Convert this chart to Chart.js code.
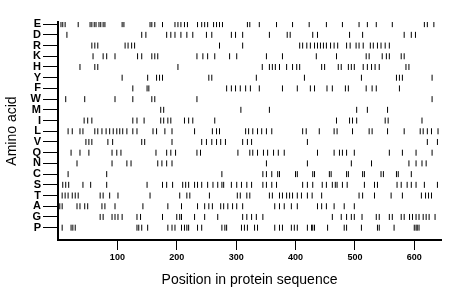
<!DOCTYPE html>
<html>
<head>
<meta charset="utf-8">
<script src="https://cdn.jsdelivr.net/npm/chart.js@4"></script>
<style>
  body { margin: 0; background: #fff; }
  #chart { display: block; }
</style>
</head>
<body>
<canvas id="chart" width="460" height="299"></canvas>
<script>
// amino acid order on the y axis, top to bottom
const aminoAcids = ["E", "D", "R", "K", "H", "Y", "F", "W", "M", "I", "L", "V", "Q", "N", "C", "S", "T", "A", "G", "P"];
const xTicks = [100, 200, 300, 400, 500, 600];
const seqLength = 645;

// positions of each residue in the sequence
const E = [5, 8, 12, 34, 54, 57, 61, 64, 69, 72, 76, 79, 108, 111, 155, 158, 163, 176, 197, 202, 207, 213, 218, 235, 242, 247, 252, 262, 267, 272, 277, 319, 323, 339, 368, 395, 423, 452, 479, 507, 521, 536, 563, 617, 622, 633];
const D = [15, 141, 148, 183, 190, 197, 207, 217, 227, 250, 259, 292, 299, 311, 356, 386, 391, 429, 437, 491, 513, 583, 595, 602];
const R = [57, 62, 67, 113, 118, 124, 129, 272, 311, 407, 412, 419, 425, 432, 437, 442, 447, 452, 459, 465, 471, 486, 492, 502, 507, 514, 526, 531, 538, 544, 551, 558];
const K = [59, 76, 82, 96, 134, 141, 158, 163, 168, 234, 244, 252, 264, 289, 301, 351, 378, 435, 469, 519, 524, 546, 553, 558, 578, 583];
const H = [37, 62, 67, 202, 344, 356, 361, 366, 373, 385, 395, 402, 407, 444, 449, 472, 477, 489, 494, 499, 514, 521, 528, 534, 541, 586, 591];
const Y = [108, 151, 166, 171, 176, 254, 259, 334, 415, 511, 570, 575, 580, 630];
const F = [126, 150, 153, 284, 292, 299, 307, 316, 324, 339, 378, 403, 425, 432, 453, 462, 484, 489, 519, 529, 536, 575];
const W = [13, 45, 96, 126, 158, 163, 234, 630];
const M = [173, 178, 308, 356, 503, 521, 555];
const I = [44, 50, 57, 126, 133, 145, 173, 178, 185, 190, 213, 220, 227, 264, 469, 491, 496, 503, 551, 556, 613];
const L = [17, 24, 37, 42, 62, 67, 74, 81, 87, 93, 99, 104, 109, 116, 126, 133, 160, 166, 180, 192, 230, 260, 267, 272, 316, 321, 328, 336, 343, 351, 360, 412, 418, 440, 465, 470, 496, 524, 529, 555, 583, 610, 615, 622, 629, 640];
const V = [47, 52, 57, 84, 92, 141, 146, 192, 242, 250, 259, 267, 274, 282, 311, 319, 326, 420, 622, 639];
const Q = [22, 37, 52, 91, 99, 106, 165, 183, 190, 198, 234, 240, 303, 323, 328, 336, 346, 353, 363, 371, 381, 437, 465, 474, 479, 486, 499, 558, 580, 603, 630];
const N = [32, 91, 116, 123, 168, 175, 183, 192, 351, 420, 494, 528, 591, 603, 613, 620];
const C = [17, 82, 276, 345, 351, 360, 370, 373, 400, 403, 429, 432, 457, 460, 486, 489, 513, 516, 544, 548, 570, 573, 595];
const S = [8, 13, 18, 42, 55, 82, 150, 176, 183, 193, 210, 215, 220, 230, 235, 242, 252, 261, 269, 276, 279, 292, 301, 309, 318, 326, 345, 351, 360, 368, 412, 420, 429, 445, 452, 462, 467, 470, 479, 487, 516, 533, 538, 571, 578, 588, 595, 603, 617, 639];
const T = [7, 12, 17, 24, 29, 34, 71, 76, 87, 101, 155, 205, 217, 222, 255, 302, 307, 318, 323, 356, 361, 373, 378, 385, 390, 395, 403, 410, 420, 428, 444, 507, 513, 533, 561, 580, 612, 619, 624, 629];
const A = [3, 7, 32, 37, 45, 50, 74, 79, 96, 143, 185, 208, 235, 247, 254, 260, 274, 279, 286, 294, 301, 311, 365, 373, 381, 393, 403, 437, 444, 452, 465, 482, 499];
const G = [71, 76, 91, 96, 101, 108, 133, 139, 176, 200, 205, 208, 230, 247, 269, 311, 318, 326, 334, 345, 462, 477, 486, 494, 499, 512, 536, 541, 558, 563, 578, 583, 592, 597, 603, 608, 615, 620, 625, 635];
const P = [7, 22, 25, 29, 133, 136, 141, 151, 185, 192, 197, 208, 213, 217, 220, 235, 242, 276, 281, 284, 309, 314, 319, 331, 336, 365, 373, 378, 393, 398, 403, 420, 427, 429, 432, 454, 482, 486, 511, 538, 541, 566, 600, 603, 605, 608];

const positions = [E, D, R, K, H, Y, F, W, M, I, L, V, Q, N, C, S, T, A, G, P];

// one point per residue, y = row (E on top)
const points = [];
positions.forEach((list, i) => {
    list.forEach(p => points.push({ x: p, y: aminoAcids.length - 1 - i }));
});

const ctx = document.getElementById("chart").getContext("2d");
new Chart(ctx, {
    type: "scatter",
    data: {
        datasets: [{
            data: points,
            pointStyle: "line",
            rotation: 90,
            radius: 3,
            borderColor: "#000",
            borderWidth: 1,
        }],
    },
    options: {
        responsive: false,
        animation: false,
        layout: { padding: { top: 22, right: 19, left: 0, bottom: 0 } },
        plugins: { legend: { display: false }, tooltip: { enabled: false } },
        scales: {
            x: {
                type: "linear",
                min: 0,
                max: seqLength,
                afterBuildTicks: scale => { scale.ticks = xTicks.map(v => ({ value: v })); },
                afterFit: scale => { scale.height = 59; },
                border: { display: true, color: "#000", width: 2 },
                grid: { drawOnChartArea: false, drawTicks: true, tickLength: 10, color: "#000", lineWidth: 1 },
                ticks: {
                    color: "#000",
                    padding: 2,
                    maxRotation: 0,
                    font: { family: "Liberation Sans", size: 9, weight: "bold" },
                },
                title: {
                    display: true,
                    text: "Position in protein sequence",
                    color: "#000",
                    font: { family: "Liberation Sans", size: 14 },
                    padding: { top: 0, bottom: 10 },
                },
            },
            y: {
                type: "linear",
                min: -1.15,
                max: 19.2,
                afterBuildTicks: scale => {
                    scale.ticks = aminoAcids.map((a, i) => ({ value: i }));
                },
                afterFit: scale => { scale.width = 58; },
                border: { display: true, color: "#000", width: 2 },
                grid: { drawOnChartArea: false, drawTicks: true, tickLength: 15, color: "#000", lineWidth: 1 },
                ticks: {
                    color: "#000",
                    padding: 2,
                    autoSkip: false,
                    callback: v => aminoAcids[aminoAcids.length - 1 - v],
                    font: { family: "Liberation Sans", size: 11, weight: "bold" },
                },
                title: {
                    display: true,
                    text: "Amino acid",
                    color: "#000",
                    font: { family: "Liberation Sans", size: 14 },
                    padding: { top: 4, bottom: 0 },
                },
            },
        },
    },
});
</script>
</body>
</html>
